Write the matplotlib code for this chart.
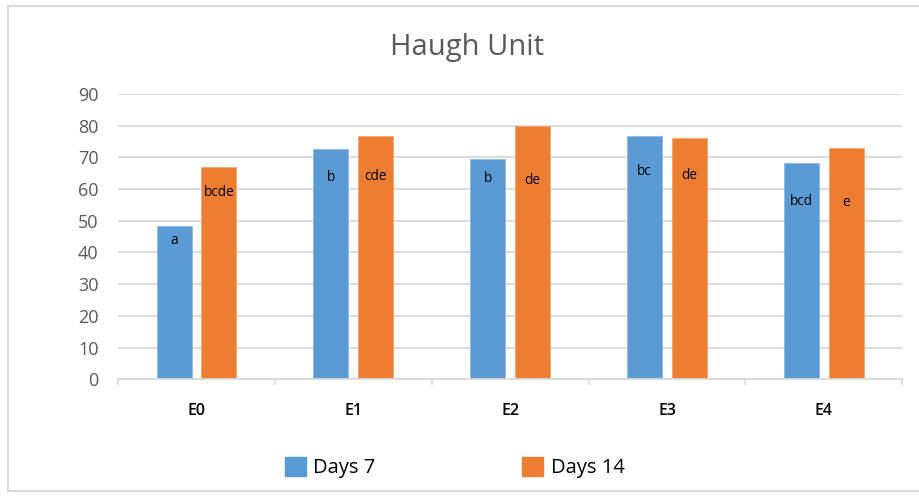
import numpy as np
import matplotlib
matplotlib.use('Agg')
import matplotlib.pyplot as plt
from matplotlib.lines import Line2D
from matplotlib.patches import Patch

plt.rcParams['font.family'] = ['Open Sans', 'DejaVu Sans']

# data
groups = ['E0', 'E1', 'E2', 'E3', 'E4']
days7 = [48.4, 72.6, 69.3, 76.6, 68.2]
days14 = [67.0, 76.6, 79.9, 76.0, 72.9]
letters7 = ['a', 'b', 'b', 'bc', 'bcd']
letters14 = ['bcde', 'cde', 'de', 'de', 'e']
# where the letters sit (y, data units)
letter_y7 = [43.6, 63.7, 63.2, 65.4, 56.0]
letter_y14 = [58.8, 64.0, 62.7, 64.3, 55.7]
yticks = [0, 10, 20, 30, 40, 50, 60, 70, 80, 90]

blue = '#5B9BD5'
orange = '#ED7D31'
grid = '#D9D9D9'

fig = plt.figure(figsize=(9.2, 4.96), dpi=100)
ax = fig.add_axes([0.1283, 0.2353, 0.8525, 0.5756])

x = np.arange(len(groups))
w = 0.223
off = 0.143
ax.bar(x - off, days7, w, color=blue, edgecolor='#8DBBE6', linewidth=0.6, zorder=3)
ax.bar(x + off, days14, w, color=orange, edgecolor='#F3A570', linewidth=0.6, zorder=3)

for i in range(len(groups)):
    ax.text(x[i] - off, letter_y7[i], letters7[i], ha='center', va='center',
            fontsize=9.8, color='black', zorder=4)
    ax.text(x[i] + off, letter_y14[i], letters14[i], ha='center', va='center',
            fontsize=9.8, color='black', zorder=4)

ax.set_xlim(-0.5, len(groups) - 0.5)
ax.set_ylim(0, 90)
ax.set_yticks(yticks)
ax.yaxis.grid(True, color=grid, linewidth=1.3, zorder=0)
ax.tick_params(axis='y', length=0, pad=14, labelsize=13, labelcolor='#595959')

# boundary ticks below the axis, labels at the centres
ax.set_xticks(np.arange(-0.5, len(groups)), [''] * (len(groups) + 1))
ax.set_xticks(x, groups, minor=True)
ax.tick_params(axis='x', which='major', length=4, width=1.2, color=grid)
ax.tick_params(axis='x', which='minor', length=0, pad=17, labelsize=11.5,
               labelcolor='black')
for lab in ax.get_xticklabels(minor=True):
    lab.set_fontweight('semibold')

for s in ['top', 'right', 'left']:
    ax.spines[s].set_visible(False)
ax.spines['bottom'].set_color(grid)
ax.spines['bottom'].set_linewidth(1.3)
ax.spines['bottom'].set_zorder(5)

fig.text(0.508, 0.905, 'Haugh Unit', ha='center', va='center', fontsize=21,
         color='#595959')

handles = [Patch(facecolor=blue, edgecolor=blue), Patch(facecolor=orange, edgecolor=orange)]
fig.legend(handles, ['Days 7', 'Days 14'], loc='center', bbox_to_anchor=(0.494, 0.057),
           ncol=2, frameon=False, fontsize=14.5, handlelength=1.05, handleheight=1.05,
           handletextpad=0.36, columnspacing=7.3)

# light frame around the chart area
fc = '#D9D9D9'
fig.add_artist(Line2D([0.0087, 1.0], [0.988, 0.988], color=fc, lw=1.5, transform=fig.transFigure))
fig.add_artist(Line2D([0.0087, 0.0087], [0.01, 0.988], color=fc, lw=1.5, transform=fig.transFigure))
fig.add_artist(Line2D([0.0087, 1.0], [0.01, 0.01], color=fc, lw=1.5, transform=fig.transFigure))

fig.savefig('out.png', dpi=100)
